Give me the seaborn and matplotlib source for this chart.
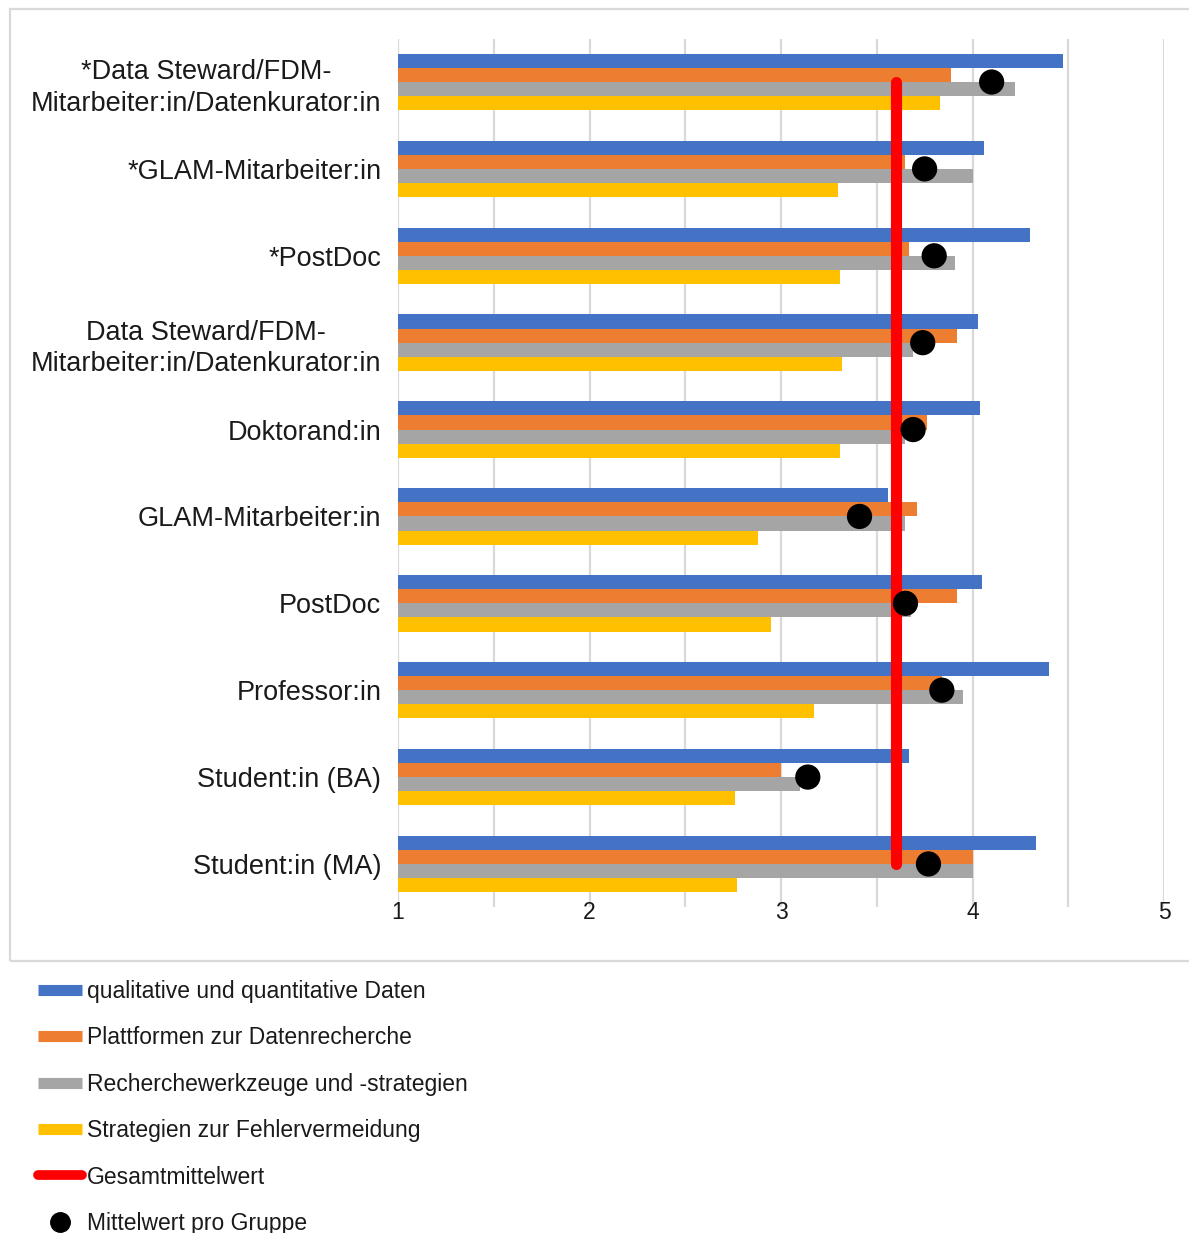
import numpy as np
import pandas as pd
import matplotlib
matplotlib.use("Agg")
import matplotlib.pyplot as plt
from matplotlib.lines import Line2D
from matplotlib.patches import Rectangle
import seaborn as sns

# Gruppen (von oben nach unten)
gruppen = [
    "*Data Steward/FDM-\nMitarbeiter:in/Datenkurator:in",
    "*GLAM-Mitarbeiter:in",
    "*PostDoc",
    "Data Steward/FDM-\nMitarbeiter:in/Datenkurator:in",
    "Doktorand:in",
    "GLAM-Mitarbeiter:in",
    "PostDoc",
    "Professor:in",
    "Student:in (BA)",
    "Student:in (MA)",
]

bereiche = [
    "qualitative und quantitative Daten",
    "Plattformen zur Datenrecherche",
    "Recherchewerkzeuge und -strategien",
    "Strategien zur Fehlervermeidung",
]

daten_qual_quant = [4.47, 4.06, 4.30, 4.03, 4.04, 3.56, 4.05, 4.40, 3.67, 4.33]
plattformen      = [3.89, 3.65, 3.67, 3.92, 3.76, 3.71, 3.92, 3.84, 3.00, 4.00]
werkzeuge        = [4.22, 4.00, 3.91, 3.69, 3.65, 3.65, 3.68, 3.95, 3.10, 4.00]
fehlervermeidung = [3.83, 3.30, 3.31, 3.32, 3.31, 2.88, 2.95, 3.17, 2.76, 2.77]

mittelwert_gruppe = [4.10, 3.75, 3.80, 3.74, 3.69, 3.41, 3.65, 3.84, 3.14, 3.77]
gesamtmittelwert = 3.60

farben = ["#4472C4", "#ED7D31", "#A5A5A5", "#FFC000"]

df = pd.DataFrame({
    "Gruppe": gruppen * 4,
    "Bereich": np.repeat(bereiche, len(gruppen)),
    "Wert": daten_qual_quant + plattformen + werkzeuge + fehlervermeidung,
})

sns.set_style("white")
plt.rcParams["font.family"] = ["Liberation Sans", "DejaVu Sans"]

fig = plt.figure(figsize=(11.89, 12.33), dpi=100)
ax = fig.add_axes([398 / 1189, 1 - 907.4 / 1233, (1164 - 398) / 1189, (907.4 - 38.6) / 1233])

sns.barplot(data=df, y="Gruppe", x="Wert", hue="Bereich", order=gruppen,
            hue_order=bereiche, palette=farben, saturation=1, width=0.65,
            linewidth=0, orient="h", legend=False, ax=ax, zorder=2)

pos = np.arange(len(gruppen))
ax.plot([gesamtmittelwert] * len(gruppen), pos, color="#FF0000", lw=8,
        solid_capstyle="round", zorder=3)
sns.scatterplot(x=mittelwert_gruppe, y=pos, color="black", s=330,
                edgecolor="none", ax=ax, zorder=4)

ax.set_xlim(1, 5)
ax.set_ylim(len(gruppen) - 0.5, -0.5)
ax.set_xticks([1, 2, 3, 4, 5])
ax.set_xticklabels(["1", "2", "3", "4", "5"])
ax.set_xticks([1.5, 2.5, 3.5, 4.5], minor=True)
ax.grid(axis="x", which="both", color="#d9d9d9", lw=1.6)
ax.set_axisbelow(True)
for s in ax.spines.values():
    s.set_visible(False)
ax.tick_params(axis="x", which="both", length=0, pad=-4.5, labelsize=16.5,
               labelcolor="#1a1a1a")
ax.tick_params(axis="y", length=0, pad=12, labelsize=19.5, labelcolor="#1a1a1a")
for lbl in ax.get_yticklabels():
    lbl.set_multialignment("center")
    lbl.set_linespacing(1.28)
ax.set_xlabel("")
ax.set_ylabel("")

# Rahmen um den Diagrammbereich
fig.patches.append(Rectangle((10 / 1189, 1 - 961 / 1233), 1.2, (961 - 9) / 1233,
                             transform=fig.transFigure, fill=False,
                             ec="#d9d9d9", lw=1.6, zorder=0))

handles = [Line2D([0], [0], color=c, lw=8, solid_capstyle="butt") for c in farben]
handles.append(Line2D([0], [0], color="#FF0000", lw=7, solid_capstyle="round"))
handles.append(Line2D([0], [0], color="black", marker="o", ms=14, lw=0))
labels = bereiche + ["Gesamtmittelwert", "Mittelwert pro Gruppe"]

fig.legend(handles, labels, loc="upper left",
           bbox_to_anchor=(38 / 1189, 1 - 980 / 1233), frameon=False,
           fontsize=16.5, handlelength=1.92, handletextpad=0.22,
           labelspacing=1.02, borderpad=0, borderaxespad=0,
           labelcolor="#1a1a1a")

fig.savefig("out.png", dpi=100, facecolor="white")
